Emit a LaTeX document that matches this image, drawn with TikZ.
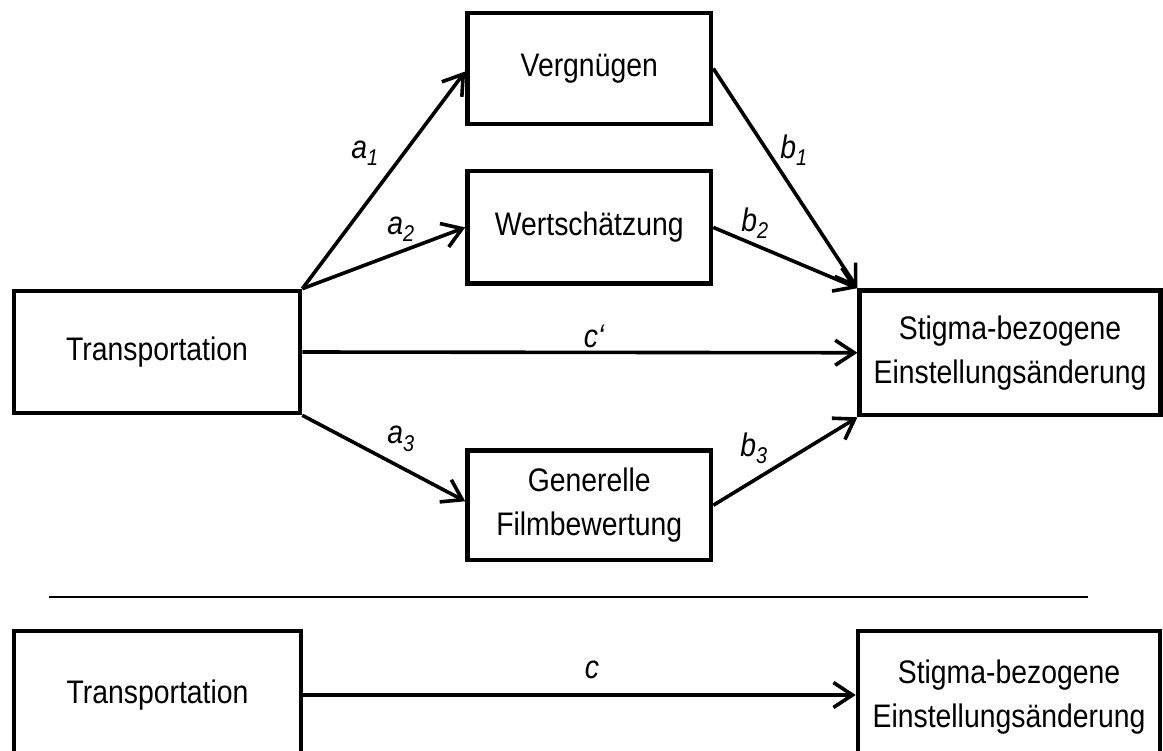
\documentclass[tikz,border=0pt]{standalone}
\usepackage{fontspec}
\setmainfont[FakeStretch=0.87]{Liberation Sans}
\usetikzlibrary{arrows.meta}

\begin{document}
\begin{tikzpicture}[
  x=1pt, y=-1pt,
  every node/.style={font=\fontsize{32.6pt}{44pt}\selectfont},
  box/.style={draw, line width=4.6pt, inner sep=0pt, align=center},
  path/.style={line width=3.6pt, -{Straight Barb[length=19pt,width=25pt]}},
  coef/.style={inner sep=0pt, font=\fontsize{32.6pt}{40pt}\selectfont\itshape},
]
% canvas
\useasboundingbox (0,0) rectangle (1163,751);
\fill[white] (0,0) rectangle (1163,751);
\clip (0,0) rectangle (1163,751);

% mediation model
\node[box, minimum width=286pt, minimum height=122pt] (T1) at (157,352) {Transportation};
\node[box, minimum width=300.5pt, minimum height=124.5pt] (S1) at (1010,352.75) {Stigma-bezogene\\Einstellungsänderung};
\node[box, minimum width=243.5pt, minimum height=111pt] (V) at (589.25,68.5) {Vergnügen};
\node[box, minimum width=243.5pt, minimum height=112.7pt] (W) at (589.25,227.4) {Wertschätzung};
\node[box, minimum width=243.5pt, minimum height=109.5pt] (G) at (589.25,505.25) {Generelle\\Filmbewertung};

\draw[path] (T1.north east) -- ([yshift=-3pt]V.west);
\draw[path] (T1.north east) -- (W.west);
\draw[path] (T1.south east) -- ([yshift=4pt]G.west);
\draw[path] (V.east) -- (S1.north west);
\draw[path] (W.east) -- (S1.north west);
\draw[path] (G.east) -- (S1.south west);
\draw[path] (T1.east) -- (S1.west);

\node[coef] (la1) at (365,153) {a\textsubscript{1}};
\node[coef] (la2) at (401,229) {a\textsubscript{2}};
\node[coef] (la3) at (401,439) {a\textsubscript{3}};
\node[coef] (lb1) at (794,150) {b\textsubscript{1}};
\node[coef] (lb2) at (755,223) {b\textsubscript{2}};
\node[coef] (lb3) at (754,448) {b\textsubscript{3}};
\node[coef] (lc1) at (594,336) {c‘};

% separator
\coordinate (sepL) at (49,597);
\coordinate (sepR) at (1088,597);
\draw[line width=2.6pt] (sepL) -- (sepR);

% total effect model
\node[box, minimum width=287pt, minimum height=128pt] (T2) at (157.5,695) {Transportation};
\node[box, minimum width=302pt, minimum height=132pt] (S2) at (1009,697) {Stigma-bezogene\\Einstellungsänderung};
\draw[path] (T2.east) -- (T2.east -| S2.west);
\node[coef] (lc) at (592,670) {c};
\end{tikzpicture}
\end{document}
